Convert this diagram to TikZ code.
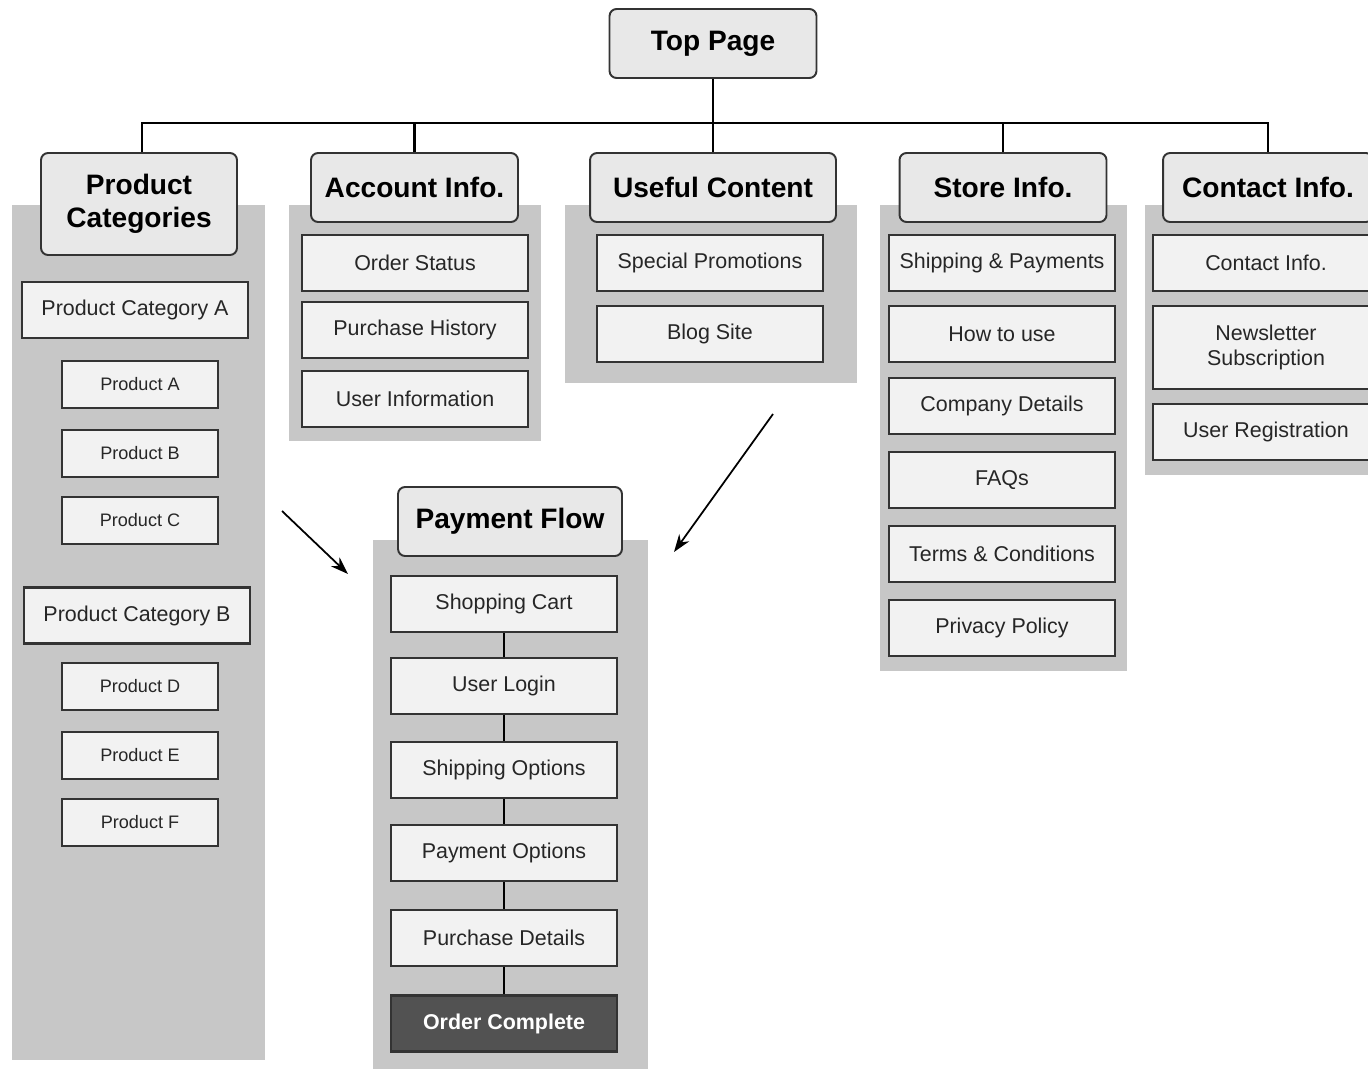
\documentclass[tikz,border=0pt]{standalone}
\usepackage{fontspec}
\setmainfont{Liberation Sans}
\usetikzlibrary{positioning,arrows.meta}

\begin{document}
\begin{tikzpicture}[x=0.02cm, y=-0.02cm,
	head/.style={draw=black!80, line width=1.1pt, rounded corners=4pt, fill=black!9, align=center, inner sep=0pt, minimum width=4.14cm, minimum height=1.38cm, font=\fontsize{16}{19}\selectfont\bfseries},
	panel/.style={fill=black!22},
	item/.style={draw=black!80, line width=1.3pt, fill=black!5, text=black!85, align=center, inner sep=0pt, minimum width=4.52cm, minimum height=1.12cm, font=\fontsize{12.2}{14}\selectfont},
	prod/.style={item, minimum width=3.12cm, minimum height=0.94cm, font=\fontsize{10.3}{12}\selectfont},
	link/.style={line width=1.5pt}]
	\useasboundingbox (0,0) rectangle (1368,1068);

	% grey panels behind each column
	\fill[panel] (12,205) rectangle (265,1060);
	\fill[panel] (289,205) rectangle (541,441);
	\fill[panel] (565,205) rectangle (857,383);
	\fill[panel] (880,205) rectangle (1127,671);
	\fill[panel] (1145,205) rectangle (1380,475);
	\fill[panel] (373,540) rectangle (648,1080);

	\node (top) at (713,43.5) [head] {Top Page};

	\node (pc) at (139,204) [head, minimum width=3.92cm, minimum height=2.04cm] {Product\\Categories};
	\node (ai) at (414.5,187.5) [head] {Account Info.};
	\node (uc) at (713,187.5) [head, minimum width=4.92cm] {Useful Content};
	\node (si) at (1003,187.5) [head] {Store Info.};
	\node (ci) at (1268,187.5) [head, minimum width=4.2cm] {Contact Info.};

	% product categories
	\node (catA) at (135,310) [item] {Product Category A};
	\node (prA) at (140,384.5) [prod] {Product A};
	\node (prB) at (140,453.5) [prod] {Product B};
	\node (prC) at (140,520.5) [prod] {Product C};
	\node (catB) at (137,615.5) [item] {Product Category B};
	\node (prD) at (140,686.5) [prod] {Product D};
	\node (prE) at (140,755.5) [prod] {Product E};
	\node (prF) at (140,822.5) [prod] {Product F};

	% account info
	\node (ai1) at (415,263) [item] {Order Status};
	\node (ai2) at (415,330) [item] {Purchase History};
	\node (ai3) at (415,399) [item] {User Information};

	% useful content
	\node (uc1) at (710,263) [item] {Special Promotions};
	\node (uc2) at (710,334) [item] {Blog Site};

	% store info
	\node (si1) at (1002,263) [item] {Shipping \& Payments};
	\node (si2) at (1002,334) [item] {How to use};
	\node (si3) at (1002,406) [item] {Company Details};
	\node (si4) at (1002,480) [item] {FAQs};
	\node (si5) at (1002,554) [item] {Terms \& Conditions};
	\node (si6) at (1002,628) [item] {Privacy Policy};

	% contact info
	\node (ci1) at (1266,263) [item] {Contact Info.};
	\node (ci2) at (1266,347.5) [item, minimum height=1.66cm] {Newsletter\\Subscription};
	\node (ci3) at (1266,432) [item] {User Registration};

	% payment flow
	\node (pf) at (510,521.5) [head, minimum width=4.48cm] {Payment Flow};
	\node (pf1) at (504,604) [item] {Shopping Cart};
	\node (pf2) at (504,686) [item] {User Login};
	\node (pf3) at (504,770) [item] {Shipping Options};
	\node (pf4) at (504,853) [item] {Payment Options};
	\node (pf5) at (504,938) [item] {Purchase Details};
	\node (pf6) at (504,1023.5) [item, fill=black!68, text=white, font=\fontsize{12.2}{14}\selectfont\bfseries] {Order Complete};

	\foreach \a/\b in {pf1/pf2, pf2/pf3, pf3/pf4, pf4/pf5, pf5/pf6}
		\draw[link] (\a) -- (\b);

	% tree lines
	\coordinate (bus) at (713,123);
	\draw[link] (top) -- (bus);
	\draw[link] ([xshift=1.7pt]pc.north) |- (bus) -| (ci.north);
	\foreach \n in {ai, uc, si}
		\draw[link] (\n.north) -- (\n.north |- bus);

	% arrows into the payment flow
	\coordinate (inL) at (282,511);
	\coordinate (inLe) at (348,574);
	\coordinate (inR) at (773,414);
	\coordinate (inRe) at (674,552);
	\draw[line width=1pt, -{Stealth[length=10pt, width=7pt]}] (inL) -- (inLe);
	\draw[line width=1pt, -{Stealth[length=10pt, width=7pt]}] (inR) -- (inRe);
\end{tikzpicture}
\end{document}
